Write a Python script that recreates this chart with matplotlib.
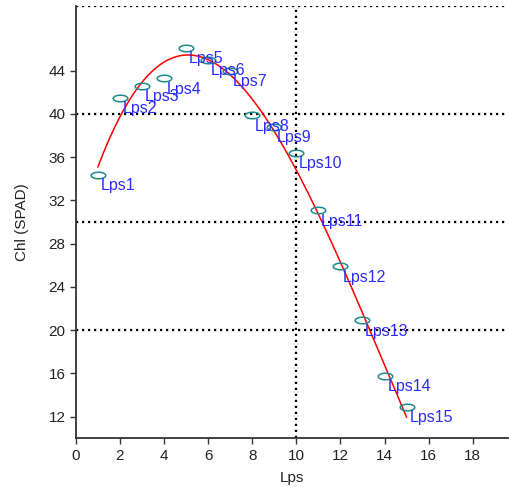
import numpy as np
import matplotlib
matplotlib.use("Agg")
import matplotlib.pyplot as plt
from matplotlib.path import Path

plt.rcParams['font.family'] = ['Liberation Sans', 'DejaVu Sans']

# Leaf position vs chlorophyll (SPAD) readings
lps = [1, 2, 3, 4, 5, 6, 7, 8, 9, 10, 11, 12, 13, 14, 15]
chl = [34.4, 41.5, 42.6, 43.3, 46.1, 45.0, 44.0, 39.9, 38.8, 36.4, 31.1, 25.9, 20.9, 15.8, 12.9]
names = ["Lps%d" % i for i in lps]
x_ticks = [0, 2, 4, 6, 8, 10, 12, 14, 16, 18]
y_ticks = [12, 16, 20, 24, 28, 32, 36, 40, 44]
h_lines = [20, 30, 40, 50]
v_lines = [10]

fig = plt.figure(figsize=(5.09, 4.87), dpi=100)
ax = fig.add_axes([0.149, 0.1, 0.849, 0.888])

# ellipse marker (2:1)
t = np.linspace(0, 2 * np.pi, 60)
ell = Path(np.column_stack([np.cos(t), 0.45 * np.sin(t)]), closed=True)

dots = (0, (1, 1.7))
for y in h_lines:
    ax.axhline(y, color='black', linestyle=dots, linewidth=1.6, zorder=1)
for x in v_lines:
    ax.axvline(x, color='black', linestyle=dots, linewidth=1.6, zorder=1)

# cubic polynomial fit
coef = np.polyfit(lps, chl, 3)
xf = np.linspace(min(lps), max(lps), 300)
ax.plot(xf, np.polyval(coef, xf), color='red', linewidth=1.1, zorder=2)

ax.plot(lps, chl, linestyle='none', marker=ell, markersize=10.5,
        markerfacecolor='none', markeredgecolor='#1f8a8a', markeredgewidth=1.1, zorder=3)

for x, y, s in zip(lps, chl, names):
    ax.annotate(s, (x, y), xytext=(2, -2.5), textcoords='offset points',
                ha='left', va='top', color='#2b2bff', fontsize=11.5, zorder=4)

ax.set_xlim(0, 19.6)
ax.set_ylim(10, 50)
ax.set_xticks(x_ticks)
ax.set_yticks(y_ticks)
ax.tick_params(labelsize=11, direction='out', length=4, width=1, color='#333333',
               labelcolor='#222222')
ax.spines['top'].set_visible(False)
ax.spines['right'].set_visible(False)
for s in ('left', 'bottom'):
    ax.spines[s].set_linewidth(1.3)
    ax.spines[s].set_color('#333333')
ax.set_xlabel('Lps', fontsize=11, labelpad=6, color='#222222')
ax.set_ylabel('Chl (SPAD)', fontsize=11, labelpad=14, color='#222222')

fig.savefig('out.png', dpi=100)
